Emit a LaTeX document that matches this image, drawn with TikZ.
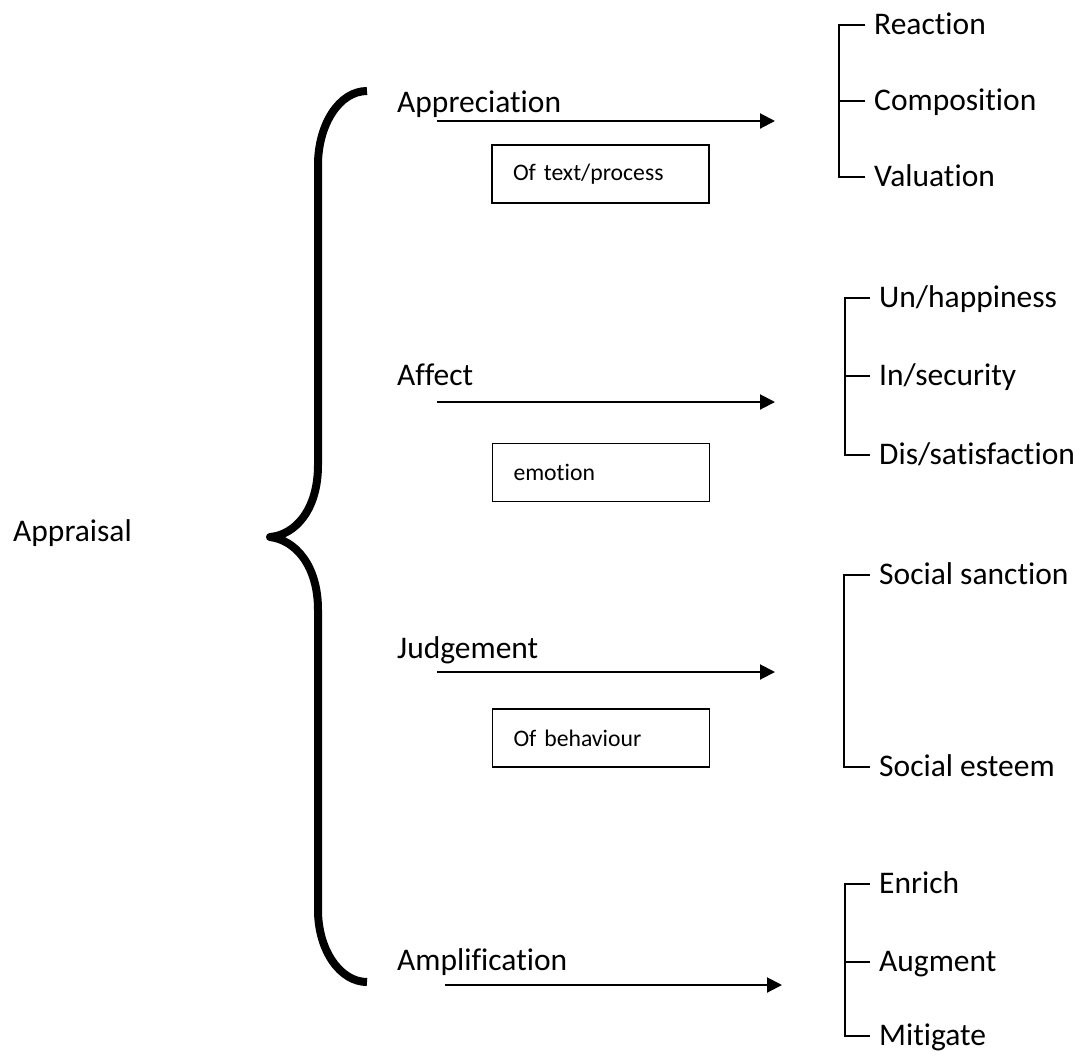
\documentclass[tikz,border=0pt]{standalone}
\usepackage{fontspec}
\setmainfont{Carlito}[Ligatures={NoCommon}]
\usetikzlibrary{arrows.meta}
\begin{document}
\begin{tikzpicture}[x=1pt,y=-1pt,
 lab/.style={font=\fontsize{31.5}{38}\selectfont, inner sep=0pt, anchor=base west},
 leaf/.style={font=\fontsize{31.5}{38}\selectfont, anchor=west, inner xsep=9pt, inner ysep=0pt, text height=22.7pt, text depth=4pt},
 tagbox/.style={draw, line width=1.5pt, font=\fontsize{23.7}{28}\selectfont, minimum width=217pt, minimum height=58pt, text width=175pt, inner xsep=21pt, align=left},
 arr/.style={line width=2pt, -{Triangle[length=15pt,width=15pt]}},
 brk/.style={line width=1.8pt},
 bigbrace/.style={line width=8pt, line join=round}
]
\useasboundingbox (0,0) rectangle (1083,1055);

% left label and brace
\node[lab] (appraisal) at (13,541) {Appraisal};
\coordinate (tip) at (270,537);
\draw[bigbrace] (367,91) .. controls (339,91) and (318,125) .. (318,165)
  -- (318,465) .. controls (318,510) and (295,535) .. (tip)
  .. controls (295,540) and (318,565) .. (318,610)
  -- (318,910) .. controls (318,950) and (340,982) .. (367,982);

% category labels
\node[lab] (appr) at (397,112) {Appreciation};
\node[lab] (aff) at (397,385) {Affect};
\node[lab] (judg) at (397,658) {Judgement};
\node[lab] (ampl) at (397,970) {Amplification};

% boxes
\node[tagbox] (b1) at (600.5,174) {Of text/process};
\node[tagbox] (b2) at (601,472.5) {emotion};
\node[tagbox] (b3) at (601,738) {Of behaviour};

% arrows
\coordinate (a1s) at (437,121); \coordinate (a1e) at (775,121);
\coordinate (a2s) at (437,402); \coordinate (a2e) at (775,402);
\coordinate (a3s) at (437,672); \coordinate (a3e) at (775,672);
\coordinate (a4s) at (445,985); \coordinate (a4e) at (782,985);
\draw[arr] (a1s) -- (a1e);
\draw[arr] (a2s) -- (a2e);
\draw[arr] (a3s) -- (a3e);
\draw[arr] (a4s) -- (a4e);

% Appreciation group
\node[leaf] (r1) at (865,25) {Reaction};
\node[leaf] (r2) at (865,101) {Composition};
\node[leaf] (r3) at (865,177) {Valuation};
\draw[brk] (r1.west) -- ++(-26,0) |- (r3.west);
\draw[brk] (r2.west) -- ++(-26,0);

% Affect group
\node[leaf] (f1) at (870,298) {Un/happiness};
\node[leaf] (f2) at (870,376) {In/security};
\node[leaf] (f3) at (870,455) {Dis/satisfaction};
\draw[brk] (f1.west) -- ++(-25,0) |- (f3.west);
\draw[brk] (f2.west) -- ++(-25,0);

% Judgement group
\node[leaf] (j1) at (870,575) {Social sanction};
\node[leaf] (j2) at (870,767) {Social esteem};
\draw[brk] (j1.west) -- ++(-26,0) |- (j2.west);

% Amplification group
\node[leaf] (m1) at (870,884) {Enrich};
\node[leaf] (m2) at (870,962) {Augment};
\node[leaf] (m3) at (870,1036) {Mitigate};
\draw[brk] (m1.west) -- ++(-25,0) |- (m3.west);
\draw[brk] (m2.west) -- ++(-25,0);
\end{tikzpicture}
\end{document}
